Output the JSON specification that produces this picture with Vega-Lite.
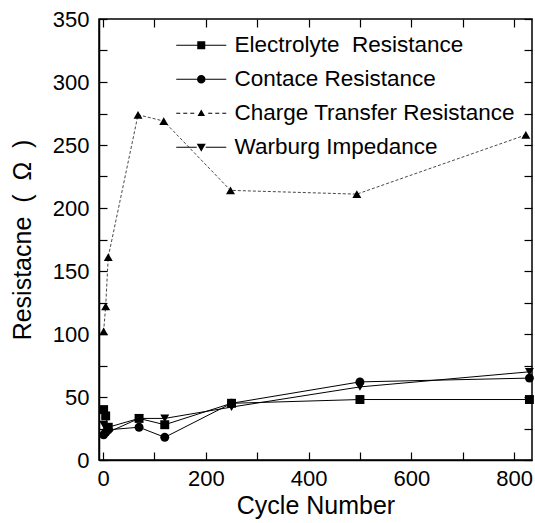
{
  "$schema": "https://vega.github.io/schema/vega-lite/v6.json",
  "width": 433,
  "height": 441,
  "autosize": "none",
  "padding": {"left": 99, "top": 19, "right": 3, "bottom": 63},
  "config": {
    "font": "Liberation Sans",
    "view": {"stroke": "black", "strokeWidth": 1.5},
    "axis": {
      "domainColor": "black", "tickColor": "black", "labelColor": "black", "titleColor": "black",
      "grid": false, "labelFontSize": 22, "titleFontSize": 25, "titleFontWeight": "normal",
      "domainWidth": 1.5, "tickWidth": 1.2, "tickSize": -8
    }
  },
  "data": {
    "values": [
      {"cycle": 1, "series": "Electrolyte\u00a0 Resistance", "value": 40},
      {"cycle": 5, "series": "Electrolyte\u00a0 Resistance", "value": 35},
      {"cycle": 10, "series": "Electrolyte\u00a0 Resistance", "value": 26},
      {"cycle": 70, "series": "Electrolyte\u00a0 Resistance", "value": 33},
      {"cycle": 120, "series": "Electrolyte\u00a0 Resistance", "value": 28},
      {"cycle": 250, "series": "Electrolyte\u00a0 Resistance", "value": 45},
      {"cycle": 500, "series": "Electrolyte\u00a0 Resistance", "value": 48},
      {"cycle": 830, "series": "Electrolyte\u00a0 Resistance", "value": 48},
      {"cycle": 1, "series": "Contace Resistance", "value": 20},
      {"cycle": 5, "series": "Contace Resistance", "value": 22},
      {"cycle": 10, "series": "Contace Resistance", "value": 24},
      {"cycle": 70, "series": "Contace Resistance", "value": 26},
      {"cycle": 120, "series": "Contace Resistance", "value": 18},
      {"cycle": 250, "series": "Contace Resistance", "value": 45},
      {"cycle": 500, "series": "Contace Resistance", "value": 62},
      {"cycle": 830, "series": "Contace Resistance", "value": 65},
      {"cycle": 1, "series": "Charge Transfer Resistance", "value": 102},
      {"cycle": 5, "series": "Charge Transfer Resistance", "value": 122},
      {"cycle": 10, "series": "Charge Transfer Resistance", "value": 161},
      {"cycle": 68, "series": "Charge Transfer Resistance", "value": 274},
      {"cycle": 118, "series": "Charge Transfer Resistance", "value": 269},
      {"cycle": 248, "series": "Charge Transfer Resistance", "value": 214},
      {"cycle": 494, "series": "Charge Transfer Resistance", "value": 211},
      {"cycle": 823, "series": "Charge Transfer Resistance", "value": 258},
      {"cycle": 1, "series": "Warburg Impedance", "value": 28},
      {"cycle": 5, "series": "Warburg Impedance", "value": 20},
      {"cycle": 10, "series": "Warburg Impedance", "value": 22},
      {"cycle": 70, "series": "Warburg Impedance", "value": 33},
      {"cycle": 120, "series": "Warburg Impedance", "value": 33},
      {"cycle": 250, "series": "Warburg Impedance", "value": 42},
      {"cycle": 500, "series": "Warburg Impedance", "value": 58},
      {"cycle": 830, "series": "Warburg Impedance", "value": 70}
    ]
  },
  "layer": [
    {
      "transform": [{"filter": "datum.series !== 'Charge Transfer Resistance'"}],
      "mark": {"type": "line", "color": "black", "strokeWidth": 1},
      "encoding": {
        "x": {
          "field": "cycle", "type": "quantitative",
          "scale": {"domain": [-8, 835], "nice": false, "zero": false},
          "axis": {
            "orient": "bottom", "title": "Cycle Number", "values": [0, 100, 200, 300, 400, 500, 600, 700, 800],
            "labelExpr": "datum.value % 200 === 0 ? datum.label : ''",
            "labelPadding": 16, "titlePadding": 4,
            "encode": {"ticks": {"update": {"y2": {"signal": "datum.value % 200 === 0 ? -8 : -4"}}}}
          }
        },
        "y": {
          "field": "value", "type": "quantitative",
          "scale": {"domain": [0, 350], "nice": false},
          "axis": {
            "orient": "left", "title": "Resistacne\u00a0 (\u00a0 Ω\u00a0 )", "values": [0, 25, 50, 75, 100, 125, 150, 175, 200, 225, 250, 275, 300, 325, 350],
            "labelExpr": "datum.value % 50 === 0 ? datum.label : ''",
            "labelPadding": 18, "titlePadding": 17,
            "encode": {"ticks": {"update": {"x2": {"signal": "datum.value % 50 === 0 ? 8 : 4"}}}}
          }
        },
        "detail": {"field": "series"}
      }
    },
    {
      "transform": [{"filter": "datum.series === 'Charge Transfer Resistance'"}],
      "mark": {"type": "line", "color": "#333333", "strokeWidth": 0.9, "strokeDash": [3, 2]},
      "encoding": {
        "x": {"field": "cycle", "type": "quantitative", "axis": null},
        "y": {"field": "value", "type": "quantitative", "axis": null}
      }
    },
    {
      "mark": {"type": "point", "filled": true, "color": "black", "size": 80, "opacity": 1},
      "encoding": {
        "x": {
          "field": "cycle", "type": "quantitative",
          "axis": {
            "orient": "top", "title": null, "labels": false, "domain": false,
            "values": [0, 100, 200, 300, 400, 500, 600, 700, 800],
            "encode": {"ticks": {"update": {"y2": {"signal": "datum.value % 200 === 0 ? 8 : 4"}}}}
          }
        },
        "y": {
          "field": "value", "type": "quantitative",
          "axis": {
            "orient": "right", "title": null, "labels": false, "domain": false,
            "values": [0, 25, 50, 75, 100, 125, 150, 175, 200, 225, 250, 275, 300, 325, 350],
            "encode": {"ticks": {"update": {"x2": {"signal": "datum.value % 50 === 0 ? -8 : -4"}}}}
          }
        },
        "shape": {
          "field": "series", "type": "nominal",
          "scale": {"domain": ["Electrolyte\u00a0 Resistance", "Contace Resistance", "Charge Transfer Resistance", "Warburg Impedance"], "range": ["square", "circle", "triangle-up", "triangle-down"]},
          "legend": null
        }
      }
    },
    {
      "mark": {"type": "point", "filled": true, "fill": "black", "opacity": 0},
      "encoding": {
        "x": {"field": "cycle", "type": "quantitative", "axis": null},
        "y": {"field": "value", "type": "quantitative", "axis": null},
        "shape": {
          "field": "series", "type": "nominal",
          "scale": {
            "domain": ["Electrolyte\u00a0 Resistance", "Contace Resistance", "Charge Transfer Resistance", "Warburg Impedance"],
            "range": [
              "M-5,-0.1H-0.8V0.1H-5ZM0.8,-0.1H5V0.1H0.8ZM-0.8,-0.8H0.8V0.8H-0.8Z",
              "M-5,-0.1H-0.85V0.1H-5ZM0.85,-0.1H5V0.1H0.85ZM-0.85,0A0.85,0.85,0,1,0,0.85,0A0.85,0.85,0,1,0,-0.85,0Z",
              "M-5,-0.08H-4.2V0.08H-5ZM-3.6,-0.08H-2.8V0.08H-3.6ZM-2.2,-0.08H-1.4V0.08H-2.2ZM1.4,-0.08H2.2V0.08H1.4ZM2.8,-0.08H3.6V0.08H2.8ZM4.2,-0.08H5V0.08H4.2ZM0,-0.75L0.75,0.55H-0.75Z",
              "M-5,-0.1H-0.9V0.1H-5ZM0.9,-0.1H5V0.1H0.9ZM-0.9,-0.7H0.9L0,0.9Z"
            ]
          },
          "legend": {
            "title": null, "orient": "none", "legendX": 91, "legendY": 15,
            "padding": 0, "labelFontSize": 22.5, "labelColor": "black", "symbolSize": 100,
            "symbolOpacity": 1, "symbolFillColor": "black",
            "labelOffset": 22, "rowPadding": 11, "labelLimit": 400
          }
        }
      }
    }
  ],
  "resolve": {"axis": {"x": "independent", "y": "independent"}, "scale": {"shape": "independent"}}
}
